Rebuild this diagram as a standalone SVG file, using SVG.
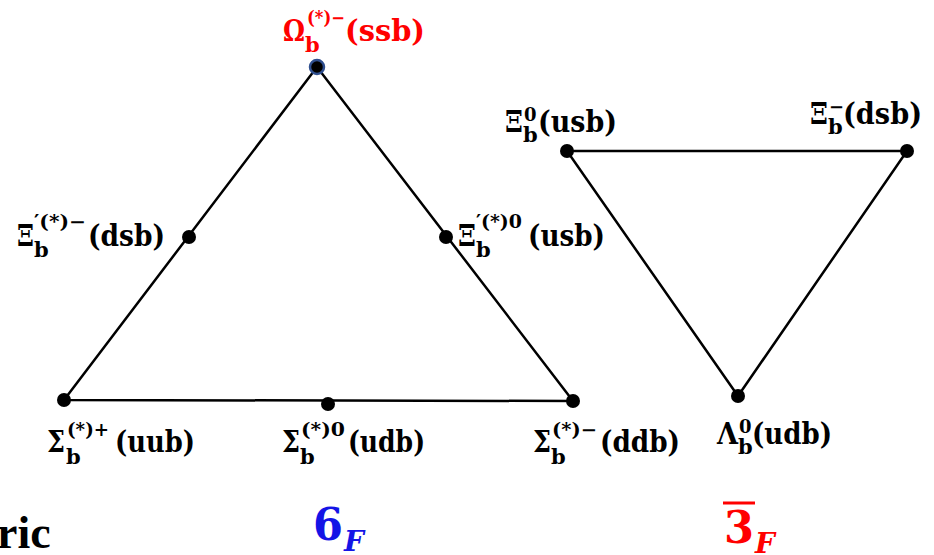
<svg xmlns="http://www.w3.org/2000/svg" width="934" height="555" viewBox="0 0 934 555">
<style>
.lbl{font-family:"DejaVu Serif","Liberation Serif",serif;font-weight:bold;fill:#000}
.m{font-size:30px}
.g{font-size:30px}
.s{font-size:21px}
.p{font-size:18px}
.red{fill:#FF0000}
.edge{stroke:#000;stroke-width:2.5;fill:none}
.dot{fill:#000}
</style>
<rect width="934" height="555" fill="#fff"/>
<g id="connectors">
<polygon class="edge" points="317,67 64,400 573,401"/>
<polygon class="edge" points="567,151 907,151 738,396"/>
</g>
<g id="omega">
<circle cx="317" cy="67" r="7" fill="#000" stroke="#2F4F8F" stroke-width="2.5"/>
<text class="lbl red"><tspan class="g" x="283" y="41" textLength="22" lengthAdjust="spacingAndGlyphs">Ω</tspan><tspan class="s" x="305" y="52">b</tspan><tspan class="p" x="307" y="24" textLength="38" lengthAdjust="spacingAndGlyphs">(*)−</tspan><tspan class="m" x="345" y="41" textLength="80" lengthAdjust="spacingAndGlyphs">(ssb)</tspan></text>
</g>
<g id="xi-prime-minus">
<circle class="dot" cx="189" cy="237" r="7"/>
<text class="lbl"><tspan class="g" x="17" y="246" textLength="17" lengthAdjust="spacingAndGlyphs">Ξ</tspan><tspan class="s" x="34" y="257">b</tspan><tspan class="p" x="34" y="228" textLength="52" lengthAdjust="spacingAndGlyphs">′(*)−</tspan><tspan class="m" x="88" y="246" textLength="77" lengthAdjust="spacingAndGlyphs">(dsb)</tspan></text>
</g>
<g id="xi-prime-zero">
<circle class="dot" cx="446" cy="237" r="7"/>
<text class="lbl"><tspan class="g" x="458" y="246" textLength="18" lengthAdjust="spacingAndGlyphs">Ξ</tspan><tspan class="s" x="476" y="257">b</tspan><tspan class="p" x="476" y="228" textLength="46" lengthAdjust="spacingAndGlyphs">′(*)0</tspan><tspan class="m" x="528" y="246" textLength="77" lengthAdjust="spacingAndGlyphs">(usb)</tspan></text>
</g>
<g id="sigma-plus">
<circle class="dot" cx="64" cy="400" r="7"/>
<text class="lbl"><tspan class="g" x="47" y="452" textLength="18" lengthAdjust="spacingAndGlyphs">Σ</tspan><tspan class="s" x="66" y="464">b</tspan><tspan class="p" x="67" y="436" textLength="42" lengthAdjust="spacingAndGlyphs">(*)+</tspan><tspan class="m" x="115" y="452" textLength="80" lengthAdjust="spacingAndGlyphs">(uub)</tspan></text>
</g>
<g id="sigma-zero">
<circle class="dot" cx="328" cy="404" r="7"/>
<text class="lbl"><tspan class="g" x="282" y="452" textLength="18" lengthAdjust="spacingAndGlyphs">Σ</tspan><tspan class="s" x="300" y="464">b</tspan><tspan class="p" x="301" y="436" textLength="44" lengthAdjust="spacingAndGlyphs">(*)0</tspan><tspan class="m" x="348" y="452" textLength="77" lengthAdjust="spacingAndGlyphs">(udb)</tspan></text>
</g>
<g id="sigma-minus">
<circle class="dot" cx="573" cy="401" r="7"/>
<text class="lbl"><tspan class="g" x="533" y="452" textLength="18" lengthAdjust="spacingAndGlyphs">Σ</tspan><tspan class="s" x="551" y="464">b</tspan><tspan class="p" x="552" y="436" textLength="45" lengthAdjust="spacingAndGlyphs">(*)−</tspan><tspan class="m" x="600" y="452" textLength="80" lengthAdjust="spacingAndGlyphs">(ddb)</tspan></text>
</g>
<g id="xi-zero">
<circle class="dot" cx="567" cy="151" r="7"/>
<text class="lbl"><tspan class="g" x="505" y="132" textLength="18" lengthAdjust="spacingAndGlyphs">Ξ</tspan><tspan class="s" x="523" y="142">b</tspan><tspan class="p" x="524" y="121">0</tspan><tspan class="m" x="538" y="132" textLength="79" lengthAdjust="spacingAndGlyphs">(usb)</tspan></text>
</g>
<g id="xi-minus">
<circle class="dot" cx="907" cy="151" r="7"/>
<text class="lbl"><tspan class="g" x="810" y="124" textLength="18" lengthAdjust="spacingAndGlyphs">Ξ</tspan><tspan class="s" x="828" y="134">b</tspan><tspan class="p" x="829" y="113">−</tspan><tspan class="m" x="843" y="124" textLength="79" lengthAdjust="spacingAndGlyphs">(dsb)</tspan></text>
</g>
<g id="lambda">
<circle class="dot" cx="738" cy="396" r="7"/>
<text class="lbl"><tspan class="g" x="717" y="444" textLength="21" lengthAdjust="spacingAndGlyphs">Λ</tspan><tspan class="s" x="738" y="454">b</tspan><tspan class="p" x="739" y="433">0</tspan><tspan class="m" x="752" y="444" textLength="80" lengthAdjust="spacingAndGlyphs">(udb)</tspan></text>
</g>
<g id="six-f">
<text class="lbl" style="fill:#1414E6"><tspan font-size="44" x="313" y="540" textLength="30" lengthAdjust="spacingAndGlyphs">6</tspan><tspan font-size="28" font-style="italic" x="344" y="551">F</tspan></text>
</g>
<g id="three-bar-f">
<line x1="723" y1="503" x2="755" y2="503" stroke="#FF0000" stroke-width="3"/>
<text class="lbl red"><tspan font-size="44" x="724" y="543" textLength="30" lengthAdjust="spacingAndGlyphs">3</tspan><tspan font-size="28" font-style="italic" x="755" y="553">F</tspan></text>
</g>
<text x="-3" y="548" font-family="Liberation Serif, serif" font-size="46" font-weight="bold" fill="#000">ric</text>
</svg>
